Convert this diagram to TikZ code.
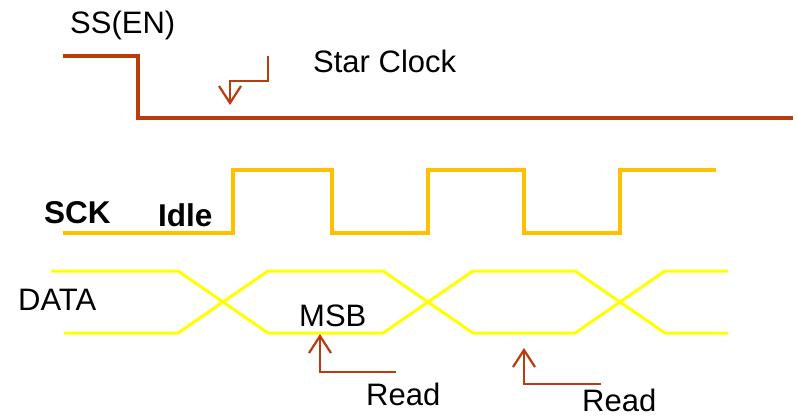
\documentclass[tikz,border=0pt]{standalone}
\usepackage{fontspec}
\setmainfont{Liberation Sans}
\usetikzlibrary{arrows.meta}
\definecolor{ssred}{RGB}{184,60,14}
\definecolor{sckorange}{RGB}{255,192,0}
\definecolor{datayellow}{RGB}{255,255,0}
\tikzset{
  ssline/.style={draw=ssred,line width=3.5pt},
  sckline/.style={draw=sckorange,line width=3.2pt},
  dataline/.style={draw=datayellow,line width=3pt},
  markarrow/.style={draw=ssred,line width=2.2pt,-{Straight Barb[length=17pt,width=22pt]}},
  lbl/.style={inner sep=0pt,anchor=base west,font=\fontsize{31}{36}\selectfont},
  boldlbl/.style={lbl,font=\fontsize{31.5}{37}\selectfont\bfseries}
}
\begin{document}
\begin{tikzpicture}[x=1pt,y=-1pt]
\useasboundingbox (0,0) rectangle (798,416);
% labels
\node[lbl] (ssen) at (70,33) {SS(EN)};
\node[lbl] (star) at (313,72) {Star Clock};
\node[boldlbl] (sck) at (44,223) {SCK};
\node[boldlbl] (idle) at (158,226) {Idle};
\node[lbl] (data) at (18,310) {DATA};
\node[lbl] (msb) at (299,326) {MSB};
\node[lbl] (readA) at (366,405) {Read};
\node[lbl] (readB) at (582,411) {Read};
% SS(EN)
\draw[ssline] (63,56) -- (138,56) -- (138,118) -- (793,118);
% SCK
\draw[sckline] (63,233) -- (233,233) -- (233,170) -- (332,170) -- (332,233)
  -- (428,233) -- (428,170) -- (524,170) -- (524,233) -- (620,233)
  -- (620,170) -- (716,170);
% DATA
\draw[dataline] (51,271) -- (178,271) -- (268,333) -- (383,333) -- (473,271)
  -- (575,271) -- (665,333) -- (728,333);
\draw[dataline] (64,333) -- (178,333) -- (268,271) -- (383,271) -- (473,333)
  -- (575,333) -- (665,271) -- (728,271);
% markers
\coordinate (startfrom) at (268,56);
\coordinate (startbend) at (268,81);
\coordinate (startto) at (230,105);
\coordinate (readAfrom) at (396,372);
\coordinate (readAto) at (320,334);
\coordinate (readBfrom) at (601,384);
\coordinate (readBto) at (524,348);
\draw[markarrow] (startfrom) -- (startbend) -| (startto);
\draw[markarrow] (readAfrom) -| (readAto);
\draw[markarrow] (readBfrom) -| (readBto);
\end{tikzpicture}
\end{document}
